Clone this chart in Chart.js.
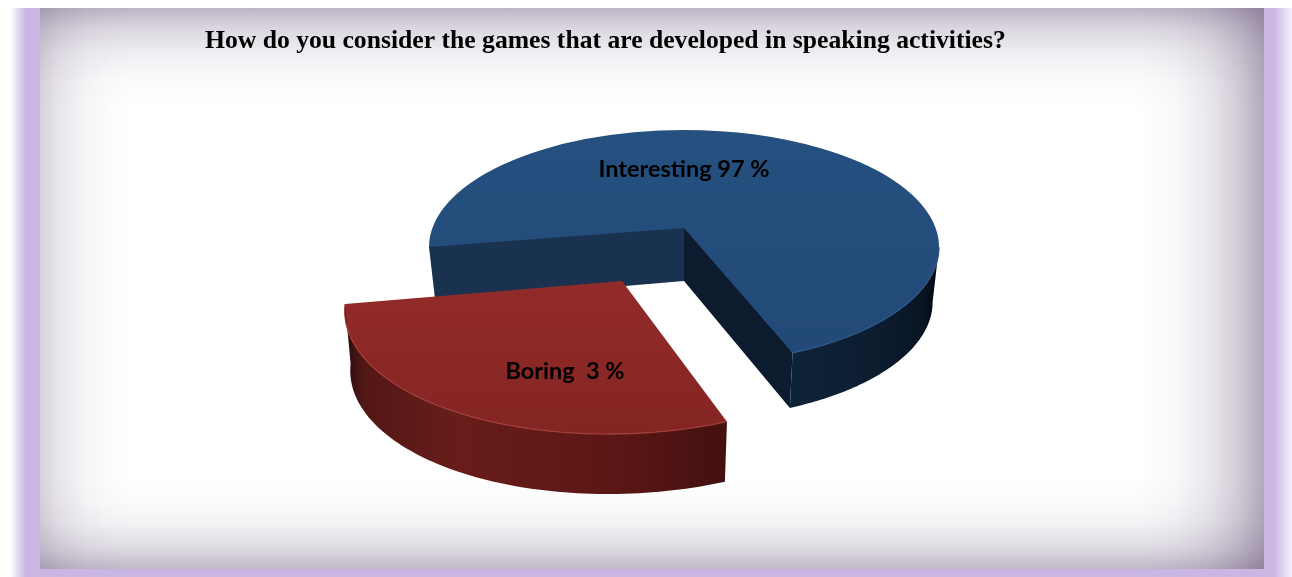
<!DOCTYPE html>
<html>
<head>
<meta charset="utf-8">
<title>Games in speaking activities</title>
<script src="https://cdn.jsdelivr.net/npm/chart.js@4"></script>
<style>
html,body{margin:0;padding:0;background:#fff;overflow:hidden;}
#wrap{position:relative;width:1292px;height:577px;overflow:hidden;}
#lav{position:absolute;left:0;top:8px;width:1292px;height:569px;
  background:linear-gradient(to right,#fff 10px,#c9b6e3 26px,#c9b6e3 1274px,#fff 1296px);}
#frame{position:absolute;left:40px;top:8px;width:1224px;height:561px;background-color:#fff;
  background-image:
    linear-gradient(to bottom,rgba(88,68,108,.40),rgba(88,68,108,.22) 20px,rgba(88,68,108,.09) 45px,rgba(88,68,108,.02) 75px,rgba(88,68,108,0) 105px),
    linear-gradient(to top,rgba(88,68,108,.38),rgba(88,68,108,.20) 20px,rgba(88,68,108,.07) 45px,rgba(88,68,108,.02) 70px,rgba(88,68,108,0) 95px),
    linear-gradient(to right,rgba(88,68,108,.24),rgba(88,68,108,.13) 20px,rgba(88,68,108,.05) 45px,rgba(88,68,108,.01) 70px,rgba(88,68,108,0) 90px),
    linear-gradient(to left,rgba(88,68,108,.46),rgba(88,68,108,.28) 25px,rgba(88,68,108,.12) 55px,rgba(88,68,108,.03) 90px,rgba(88,68,108,0) 125px);}
canvas{position:absolute;left:0;top:0;}
</style>
</head>
<body>
<div id="wrap">
  <div id="lav"></div>
  <div id="frame"></div>
  <canvas id="pie3d" width="1292" height="577"></canvas>
</div>
<script>
var chartTitle = "How do you consider the games that are developed in speaking activities?";
var categories = ["Interesting", "Boring"];
// printed labels say 97/3 but the slices are drawn about 68/32
var printedLabels = ["Interesting 97 %", "Boring  3 %"];
var sliceShares = [68, 32];

// look of each slice in the tilted view
// dx,dy move the ellipse from the chart centre, apexDy is where the tip sits above the ellipse centre
var sliceLook = [
  {dx:0, dy:19, apexDy:-19, apexDepth:53, sx:1, k:0.459, skew:0, depth:55, baseX:0.975,
   top:["#25507f","#224976"], rim:"#2b5a8f",
   side:[[0,"#0f2338"],[0.6,"#0c1c2f"],[0.9,"#081422"],[1,"#02060c"]], sideFrom:790, sideTo:939,
   wallStart:"#19324f", wallEnd:"#0c1c2e"},
  {dx:-62, dy:76, apexDy:-23, apexDepth:0, sx:1.086, k:0.51, skew:-0.056, depth:60, baseX:0.98,
   top:["#9c2f2d","#842523"], rim:"#a33d38",
   side:[[0,"#2a0d0c"],[0.05,"#521816"],[0.3,"#681d1a"],[0.7,"#5b1715"],[1,"#431010"]], sideFrom:345, sideTo:727}
];
var labelSpots = [[684,169],[565,371]];

function project(arc, look, ang, down){
  var s = Math.sin(ang), c = Math.cos(ang), r = arc.outerRadius;
  var fr = down ? look.baseX : 1;
  return {
    x: arc.x + look.dx + (look.sx*r*c + look.skew*r*s)*fr,
    y: arc.y + look.dy + look.k*r*s + (down ? look.depth : 0)
  };
}

function frontRanges(a0, a1){
  var out = [];
  for(var n=-1;n<3;n++){
    var lo = Math.max(a0, n*2*Math.PI), hi = Math.min(a1, n*2*Math.PI+Math.PI);
    if(hi>lo) out.push([lo,hi]);
  }
  return out;
}

function drawTop(ctx, arc, look){
  var X = arc.x+look.dx, Y = arc.y+look.dy;
  ctx.save();
  ctx.transform(look.sx,0,look.skew,look.k,X,Y);
  ctx.translate(-arc.x,-arc.y);
  arc.draw(ctx);
  // the tip sits above the ellipse centre, fill the piece between them
  var a = project(arc, look, arc.startAngle, false), e = project(arc, look, arc.endAngle, false);
  var mid = project(arc, look, (arc.startAngle+arc.endAngle)/2, false);
  function loc(px,py){
    var ly = (py-Y)/look.k;
    return [(px-X-look.skew*ly)/look.sx+arc.x, ly+arc.y];
  }
  // inner corner pushed a bit into the wedge so no seam shows
  var pts = [loc(a.x,a.y), loc(X,Y+look.apexDy), loc(e.x,e.y), loc(X+(mid.x-X)*0.1,Y+(mid.y-Y)*0.1)];
  ctx.fillStyle = arc.options.backgroundColor;
  ctx.beginPath();
  pts.forEach(function(p,i){ if(i==0) ctx.moveTo(p[0],p[1]); else ctx.lineTo(p[0],p[1]); });
  ctx.closePath(); ctx.fill();
  ctx.restore();
}

function drawWalls(ctx, arc, look){
  var tipX = arc.x+look.dx, tipY = arc.y+look.dy+look.apexDy;
  // cut faces, only the blue one shows them
  if(look.wallStart){
    var a = project(arc, look, arc.startAngle, false), ab = project(arc, look, arc.startAngle, true);
    ctx.fillStyle = look.wallStart;
    ctx.beginPath();
    ctx.moveTo(tipX,tipY); ctx.lineTo(a.x,a.y); ctx.lineTo(ab.x,ab.y); ctx.lineTo(tipX,tipY+look.apexDepth);
    ctx.closePath(); ctx.fill();
    var e = project(arc, look, arc.endAngle, false), eb = project(arc, look, arc.endAngle, true);
    ctx.fillStyle = look.wallEnd;
    ctx.beginPath();
    ctx.moveTo(tipX,tipY); ctx.lineTo(e.x,e.y); ctx.lineTo(eb.x,eb.y); ctx.lineTo(tipX,tipY+look.apexDepth);
    ctx.closePath(); ctx.fill();
  }
  var g = ctx.createLinearGradient(look.sideFrom,0,look.sideTo,0);
  look.side.forEach(function(st){ g.addColorStop(st[0],st[1]); });
  frontRanges(arc.startAngle, arc.endAngle).forEach(function(rg){
    var steps = 80, i, p;
    ctx.fillStyle = g;
    ctx.beginPath();
    for(i=0;i<=steps;i++){
      p = project(arc, look, rg[0]+(rg[1]-rg[0])*i/steps, false);
      if(i==0) ctx.moveTo(p.x,p.y); else ctx.lineTo(p.x,p.y);
    }
    for(i=steps;i>=0;i--){
      p = project(arc, look, rg[0]+(rg[1]-rg[0])*i/steps, true);
      ctx.lineTo(p.x,p.y);
    }
    ctx.closePath(); ctx.fill();
    // light edge along the front of the slice
    ctx.strokeStyle = look.rim;
    ctx.lineWidth = 1.2;
    ctx.beginPath();
    for(i=0;i<=steps;i++){
      p = project(arc, look, rg[0]+(rg[1]-rg[0])*i/steps, false);
      if(i==0) ctx.moveTo(p.x,p.y); else ctx.lineTo(p.x,p.y);
    }
    ctx.stroke();
  });
}

var tiltedPie = {
  id:"tiltedPie",
  beforeDatasetsDraw:function(chart){
    var ctx = chart.ctx, arcs = chart.getDatasetMeta(0).data;
    arcs.forEach(function(arc,i){
      drawTop(ctx, arc, sliceLook[i]);
      drawWalls(ctx, arc, sliceLook[i]);
    });
    ctx.save();
    ctx.textBaseline = "middle";
    ctx.textAlign = "center";
    ctx.fillStyle = "#000";
    ctx.font = "bold 23.5px Lato";
    printedLabels.forEach(function(t,i){ ctx.fillText(t, labelSpots[i][0], labelSpots[i][1]); });
    ctx.textAlign = "left";
    ctx.font = "bold 25.65px 'Liberation Serif'";
    ctx.fillText(chartTitle, 205, 41);
    ctx.restore();
    return false;
  }
};

var myChart = new Chart(document.getElementById("pie3d").getContext("2d"), {
  type:"pie",
  data:{
    labels:categories,
    datasets:[{
      data:sliceShares,
      radius:255,
      borderWidth:0,
      backgroundColor:function(c){
        var look = sliceLook[c.dataIndex];
        var g = c.chart.ctx.createLinearGradient(0,-27,0,483);
        g.addColorStop(0,look.top[0]);
        g.addColorStop(1,look.top[1]);
        return g;
      }
    }]
  },
  options:{
    responsive:false,
    animation:false,
    rotation:270,
    layout:{padding:{left:76,bottom:121}},
    plugins:{legend:{display:false},tooltip:{enabled:false},title:{display:false}}
  },
  plugins:[tiltedPie]
});
</script>
</body>
</html>
